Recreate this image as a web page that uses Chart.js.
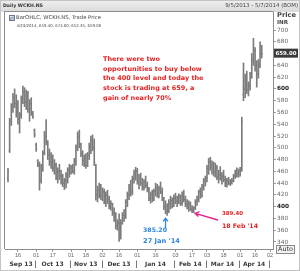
<!DOCTYPE html>
<html><head><meta charset="utf-8">
<script src="https://cdn.jsdelivr.net/npm/chart.js@4.4.0/dist/chart.umd.min.js"></script>
<style>html,body{margin:0;padding:0;background:#fff;overflow:hidden}canvas{display:block}</style>
</head><body>
<canvas id="c" width="300" height="271"></canvas>
<script>
// ---- categories: NSE trading days shown on the axis ----
const dates = [
"2013-09-05","2013-09-06","2013-09-10","2013-09-11","2013-09-12","2013-09-13","2013-09-16","2013-09-17","2013-09-18","2013-09-19","2013-09-20","2013-09-23","2013-09-24","2013-09-25","2013-09-26","2013-09-27","2013-09-30",
"2013-10-01","2013-10-03","2013-10-04","2013-10-07","2013-10-08","2013-10-09","2013-10-10","2013-10-11","2013-10-14","2013-10-15","2013-10-17","2013-10-18","2013-10-21","2013-10-22","2013-10-23","2013-10-24","2013-10-25","2013-10-28","2013-10-29","2013-10-30","2013-10-31",
"2013-11-01","2013-11-05","2013-11-06","2013-11-07","2013-11-08","2013-11-11","2013-11-12","2013-11-13","2013-11-14","2013-11-18","2013-11-19","2013-11-20","2013-11-21","2013-11-22","2013-11-25","2013-11-26","2013-11-27","2013-11-28","2013-11-29",
"2013-12-02","2013-12-03","2013-12-04","2013-12-05","2013-12-06","2013-12-09","2013-12-10","2013-12-11","2013-12-12","2013-12-13","2013-12-16","2013-12-17","2013-12-18","2013-12-19","2013-12-20","2013-12-23","2013-12-24","2013-12-26","2013-12-27","2013-12-30","2013-12-31",
"2014-01-01","2014-01-02","2014-01-03","2014-01-06","2014-01-07","2014-01-08","2014-01-09","2014-01-10","2014-01-13","2014-01-14","2014-01-15","2014-01-16","2014-01-17","2014-01-20","2014-01-21","2014-01-22","2014-01-23","2014-01-24","2014-01-27","2014-01-28","2014-01-29","2014-01-30","2014-01-31",
"2014-02-03","2014-02-04","2014-02-05","2014-02-06","2014-02-07","2014-02-10","2014-02-11","2014-02-12","2014-02-13","2014-02-14","2014-02-17","2014-02-18","2014-02-19","2014-02-20","2014-02-21","2014-02-24","2014-02-25","2014-02-26","2014-02-28",
"2014-03-03","2014-03-04","2014-03-05","2014-03-06","2014-03-07","2014-03-10","2014-03-11","2014-03-12","2014-03-13","2014-03-14","2014-03-18","2014-03-19","2014-03-20","2014-03-21","2014-03-24","2014-03-25","2014-03-26","2014-03-27","2014-03-28","2014-03-31",
"2014-04-01","2014-04-02","2014-04-03","2014-04-04","2014-04-07","2014-04-09","2014-04-10","2014-04-11","2014-04-15","2014-04-16","2014-04-17","2014-04-21","2014-04-22","2014-04-23","2014-04-25","2014-04-28","2014-04-29","2014-04-30",
"2014-05-02","2014-05-05","2014-05-06","2014-05-07"];

// ---- OHLC series ----
const opens = [448,495,545,572,585,575,562,548,556,585,
595,578,590,565,575,558,530,505,478,470,
445,465,492,520,510,488,476,485,466,470,
452,460,452,445,440,444,455,462,458,466,
460,478,500,518,505,490,478,484,470,488,
502,512,500,470,420,428,432,418,425,410,
420,412,400,405,390,380,368,372,348,372,
385,382,408,420,430,425,448,455,460,442,
448,440,432,442,436,430,415,420,412,426,
432,420,430,425,415,400,392,398,405,410,
402,415,410,414,418,406,420,412,404,400,
405,396,394,398,408,414,425,420,434,444,
448,465,476,468,472,458,466,450,455,448,
452,446,440,444,440,442,444,452,458,455,
460,462,590,600,615,598,605,622,650,665,
640,625,642,659.4];
const highs = [465,550,575,592,600,590,580,560,588,605,
602,598,596,582,585,562,532,508,480,476,
472,495,528,548,512,498,492,488,480,474,
466,472,462,455,448,458,466,472,470,472,
482,505,527,530,508,495,488,490,492,508,
520,522,515,472,435,440,438,432,430,425,
428,418,410,406,398,390,378,388,378,390,
395,412,425,438,445,452,462,467,465,455,
457,448,446,452,442,433,425,428,430,440,
438,435,442,432,416,410,405,412,418,415,
420,423,418,422,420,425,428,418,412,410,
408,402,400,412,418,428,432,438,448,452,
470,482,484,478,476,474,470,462,468,458,
462,452,448,450,446,448,455,462,466,464,
467,552,644,625,630,612,628,660,686,670,
648,650,680,674];
const lows = [442,492,538,560,568,552,540,525,550,575,
570,565,560,545,555,550,518,494,468,428,
440,460,488,505,480,470,465,460,455,446,
440,446,438,434,429,432,440,450,455,457,
455,470,495,500,485,470,468,465,468,480,
490,495,470,411,408,415,412,410,405,400,
405,396,394,385,375,362,360,341,345,370,
375,380,400,412,418,420,440,445,438,430,
436,428,428,432,425,410,406,408,410,418,
416,415,422,410,395,388,385.2,390,396,398,
400,405,400,405,402,402,408,400,396,392,
393,390,389.4,395,402,408,414,416,428,435,
442,455,462,455,452,450,446,440,445,438,
442,434,433,437,436,438,442,448,450,450,
452,460,580,585,592,588,598,618,640,630,
603,618,636,652.35];
const closes = [460,540,570,585,575,560,548,555,582,596,
578,590,565,575,560,553,522,498,472,445,
465,490,520,512,488,475,485,465,472,450,
460,452,445,440,444,455,462,458,466,460,
478,500,518,505,490,478,484,470,488,502,
512,500,475,420,428,432,418,425,410,420,
412,400,405,390,380,368,372,345,372,385,
380,408,420,430,425,448,455,460,442,448,
440,432,442,436,430,415,420,412,426,432,
420,430,425,415,400,392,398,405,410,402,
415,410,414,418,406,420,412,404,400,405,
396,394,398,408,414,425,420,434,444,448,
465,476,468,472,458,466,450,455,448,452,
446,440,444,440,442,444,452,458,455,460,
462,545,600,615,598,605,620,650,665,640,
625,640,660,659];

// ---- tick labels ----
const yTicks = [340,360,380,400,420,440,460,480,500,520,540,560,580,600,620,640,680,700];
const boldTicks = [400,600];
const tickDates = ["2013-09-16","2013-10-01","2013-10-17","2013-11-01","2013-11-18","2013-12-02","2013-12-16","2014-01-01","2014-01-16","2014-02-03","2014-02-17","2014-03-03","2014-03-18","2014-04-01","2014-04-16","2014-05-02"];
const monthKeys = ["2013-09","2013-10","2013-11","2013-12","2014-01","2014-02","2014-03","2014-04","2014-05"];
const monthNames = ["Sep 13","Oct 13","Nov 13","Dec 13","Jan 14","Feb 14","Mar 14","Apr 14"];
const lastPrice = 659.00;

const SANS = '"DejaVu Sans", Verdana, sans-serif';
const ARIAL = '"Liberation Sans", Arial, sans-serif';

function fitFont(ctx, text, width, weight, family){
  ctx.font = weight + ' 10px ' + family;
  const w = ctx.measureText(text).width;
  const s = 10 * width / w;
  ctx.font = weight + ' ' + s.toFixed(2) + 'px ' + family;
  return s;
}
function txt(ctx, text, x, y, width, weight, family, color, align){
  ctx.save();
  fitFont(ctx, text, width, weight, family);
  ctx.fillStyle = color; ctx.textAlign = align || 'left'; ctx.textBaseline = 'middle';
  ctx.fillText(text, x, y);
  ctx.restore();
}

const deco = {
  id: 'deco',
  beforeDraw(c){
    const ctx = c.ctx; ctx.save();
    ctx.fillStyle = '#fff'; ctx.fillRect(0,0,300,271);
    const g = ctx.createLinearGradient(0,0,0,12);
    g.addColorStop(0,'#efefef'); g.addColorStop(1,'#dadada');
    ctx.fillStyle = g; ctx.fillRect(0,0,300,12);
    ctx.restore();
  },
  afterDraw(c){
    const ctx = c.ctx, xs = c.scales.x, ys = c.scales.y, a = c.chartArea;
    ctx.save();
    // frame
    ctx.strokeStyle = '#8c8c8c'; ctx.lineWidth = 1;
    ctx.beginPath();
    ctx.moveTo(a.left - 0.5, a.bottom); ctx.lineTo(a.left - 0.5, a.top - 0.5); ctx.lineTo(a.right + 0.5, a.top - 0.5);
    ctx.stroke();
    ctx.strokeStyle = '#c4c4c4';
    ctx.strokeRect(0.5, 0.5, 299, 270);
    // header
    txt(ctx, 'Daily WCKH.NS', 3, 6, 40, 'bold', SANS, '#333');
    txt(ctx, '9/5/2013 - 5/7/2014 (BOM)', 298, 6, 73, 'normal', SANS, '#444', 'right');
    // legend
    ctx.fillStyle = '#e8eef6'; ctx.fillRect(9.5, 15.5, 5, 5);
    ctx.strokeStyle = '#6a7a90'; ctx.strokeRect(9.5, 15.5, 5, 5);
    ctx.beginPath(); ctx.moveTo(11, 17); ctx.lineTo(11, 20); ctx.moveTo(13, 16.5); ctx.lineTo(13, 19.5); ctx.stroke();
    txt(ctx, 'BarOHLC, WCKH.NS, Trade Price', 16, 18, 85, 'normal', SANS, '#444');
    txt(ctx, '4/23/2014, 659.40, 674.00, 652.35, 659.00', 16.5, 26, 85, 'normal', SANS, '#444');
    // right axis title
    txt(ctx, 'Price', 277, 15.5, 19, 'bold', SANS, '#444');
    txt(ctx, 'INR', 277, 23, 11, 'bold', SANS, '#444');
    // last price box
    const py = ys.getPixelForValue(lastPrice) - 1;
    ctx.fillStyle = '#3b3b3b'; ctx.fillRect(274, py - 4.5, 24, 9);
    txt(ctx, lastPrice.toFixed(2), 286, py + 0.5, 21, 'bold', SANS, '#fff', 'center');
    // Auto box
    ctx.fillStyle = '#f2f2f2'; ctx.fillRect(276.5, 245.5, 18, 8);
    ctx.strokeStyle = '#888'; ctx.strokeRect(276.5, 245.5, 18, 8);
    txt(ctx, 'Auto', 285.5, 249.8, 15, 'normal', SANS, '#333', 'center');
    // month labels and separators
    const starts = monthKeys.map(k => dates.findIndex(d => d.startsWith(k)));
    for (let i = 0; i < monthNames.length; i++){
      const x0 = xs.getPixelForValue(starts[i]), x1 = xs.getPixelForValue(starts[i+1]);
      ctx.save();
      ctx.font = 'bold 6px ' + SANS; ctx.fillStyle = '#3a3a3a'; ctx.textAlign = 'center'; ctx.textBaseline = 'middle';
      ctx.fillText(monthNames[i], (x0 + x1) / 2 - 1, 264.5);
      ctx.restore();
      ctx.strokeStyle = '#777';
      ctx.beginPath(); ctx.moveTo(Math.round(x1) - 0.5, 260.5); ctx.lineTo(Math.round(x1) - 0.5, 268); ctx.stroke();
    }
    // red comment
    const lines = ['There were two','opportunities to buy below','the 400 level and today the','stock is trading at 659, a','gain of nearly 70%'];
    ctx.save();
    fitFont(ctx, lines[1], 99, 'bold', SANS);
    ctx.fillStyle = '#e42323'; ctx.textBaseline = 'middle'; ctx.textAlign = 'left';
    lines.forEach((l, i) => ctx.fillText(l, 103, 59.5 + i * 9.6));
    ctx.restore();
    // blue annotation (27 Jan low)
    const i1 = dates.indexOf('2014-01-27');
    const bx = Math.round(xs.getPixelForValue(i1) - 2) + 0.5, by = ys.getPixelForValue(lows[i1]);
    ctx.strokeStyle = '#2b86e0'; ctx.lineWidth = 1.3;
    ctx.beginPath(); ctx.moveTo(bx, by + 13); ctx.lineTo(bx, by + 3);
    ctx.moveTo(bx - 2.5, by + 6); ctx.lineTo(bx, by + 3); ctx.lineTo(bx + 2.5, by + 6); ctx.stroke();
    txt(ctx, lows[i1].toFixed(2), 143, 230.5, 24, 'bold', SANS, '#2b86e0');
    txt(ctx, "27 Jan '14", 143, 241, 37, 'bold', SANS, '#2b86e0');
    // pink arrow (18 Feb low)
    const i2 = dates.indexOf('2014-02-18');
    const tx = xs.getPixelForValue(i2) + 1.5, ty = ys.getPixelForValue(lows[i2]) + 0.5;
    ctx.strokeStyle = '#e3218c'; ctx.lineWidth = 1.4;
    ctx.beginPath(); ctx.moveTo(218, 220); ctx.lineTo(tx, ty);
    ctx.moveTo(tx + 4.2, ty - 1.8); ctx.lineTo(tx, ty); ctx.lineTo(tx + 3.2, ty + 3.2); ctx.stroke();
    txt(ctx, lows[i2].toFixed(2), 222, 214, 21, 'bold', SANS, '#e42323');
    txt(ctx, "18 Feb '14", 222, 226, 36, 'bold', SANS, '#e42323');
    ctx.restore();
  }
};

const barColor = '#7c7c7c';
new Chart(document.getElementById('c'), {
  type: 'bar',
  data: {
    datasets: [
      { type: 'scatter', data: opens.map((v, i) => ({x: i, y: v})), pointStyle: 'dash', pointRotation: 180,
        pointRadius: 1.1, pointBorderWidth: 1, pointBorderColor: barColor, pointBackgroundColor: barColor },
      { type: 'scatter', data: closes.map((v, i) => ({x: i, y: v})), pointStyle: 'dash', pointRotation: 0,
        pointRadius: 1.1, pointBorderWidth: 1, pointBorderColor: barColor, pointBackgroundColor: barColor },
      { type: 'bar', data: highs.map((v, i) => ({x: i, y: [lows[i], v]})), backgroundColor: barColor,
        barThickness: 1, borderWidth: 0 }
    ]
  },
  options: {
    responsive: false, animation: false, devicePixelRatio: 1,
    layout: { padding: { left: 4, top: 12, right: 0, bottom: 0 } },
    plugins: { legend: { display: false }, tooltip: { enabled: false } },
    events: [],
    scales: {
      x: {
        type: 'linear', min: -1.8, max: 159.8, offset: false,
        afterBuildTicks: s => { s.ticks = tickDates.map(d => ({ value: dates.indexOf(d) })); },
        afterFit: s => { s.height = 22; },
        ticks: { autoSkip: false, maxRotation: 0, padding: 0, color: '#666',
          font: { family: ARIAL, size: 5.5 },
          callback: v => { const d = dates[v]; return d ? d.slice(8) : ''; } },
        grid: { display: true, drawOnChartArea: false, tickLength: 3, color: '#999', offset: false },
        border: { display: true, color: '#8c8c8c' }
      },
      y: {
        position: 'right', min: 328.1, max: 730.6,
        afterBuildTicks: s => { s.ticks = yTicks.map(v => ({ value: v })); },
        afterFit: s => { s.width = 27; },
        ticks: { padding: 1,
          color: ctx => boldTicks.includes(ctx.tick && ctx.tick.value) ? '#222' : '#666',
          font: ctx => ({ family: SANS, size: 5.8, weight: boldTicks.includes(ctx.tick && ctx.tick.value) ? 'bold' : 'normal' }),
          callback: v => String(v) },
        grid: { display: true, drawOnChartArea: false, tickLength: 3, color: '#999' },
        border: { display: true, color: '#8c8c8c' }
      }
    }
  },
  plugins: [deco]
});
</script>
</body></html>
